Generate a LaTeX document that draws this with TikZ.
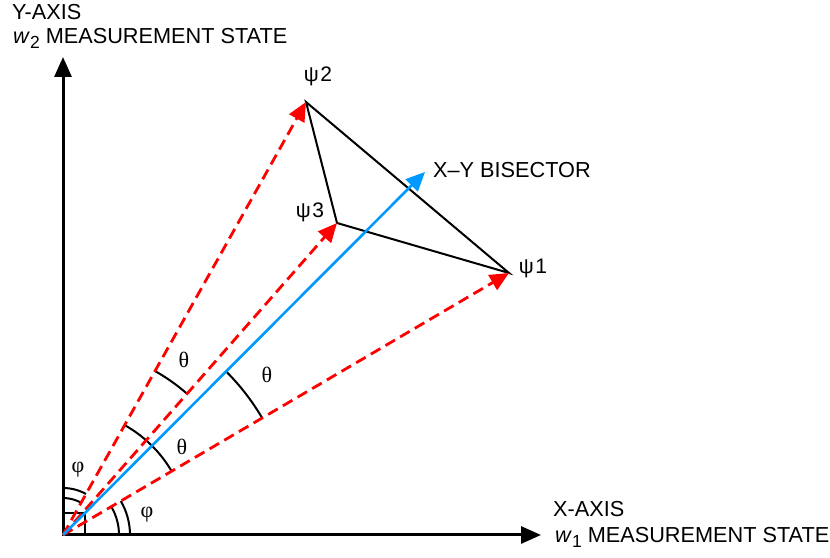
\documentclass[tikz,border=0pt]{standalone}
\usepackage{fontspec}
\setmainfont{Liberation Sans}
\newfontfamily\serifgr{Liberation Serif}
\usetikzlibrary{arrows.meta}
\definecolor{vred}{RGB}{255,0,0}
\definecolor{vblue}{RGB}{0,153,255}
\tikzset{
  axis/.style={line width=3bp, -{Triangle[length=20bp,width=17bp]}},
  psiline/.style={vred, line width=2.8bp, dash pattern=on 11bp off 6bp, -{Triangle[length=19bp,width=17bp]}},
  bisline/.style={vblue, line width=2.6bp, -{Triangle[length=19bp,width=17bp]}},
  tri/.style={line width=2bp, line join=miter},
  angarc/.style={line width=2bp},
  lbl/.style={font=\fontsize{21.7bp}{26bp}\selectfont, inner sep=0pt},
  grk/.style={font=\serifgr\fontsize{22bp}{26bp}\selectfont, inner sep=0pt},
  psil/.style={font=\fontsize{21bp}{25bp}\selectfont, inner sep=0pt},
}
\newcommand{\wsub}[1]{\textit{w}\raisebox{-5bp}{\fontsize{17.5bp}{17.5bp}\selectfont #1}}
\begin{document}
\begin{tikzpicture}[x=1bp,y=1bp]
\useasboundingbox (0,0) rectangle (830,558);
\coordinate (O) at (63,23);
\coordinate (Yt) at (63,501);
\coordinate (Xt) at (541,23);
\coordinate (P1) at (509,285);
\coordinate (P2) at (306,456);
\coordinate (P3) at (337,335);
\coordinate (B) at (425,386);

% right-angle square
\draw[line width=2bp] (O) rectangle (85,45);

% axes
\draw[axis] (O) -- (Yt);
\draw[axis] (O) -- (Xt);

% angle arcs
\draw[angarc] (O) ++(30.43:231) arc[start angle=30.43, end angle=45.08, radius=231];
\draw[angarc] (O) ++(48.71:188) arc[start angle=48.71, end angle=60.70, radius=188];
\draw[angarc] (O) ++(30.43:126) arc[start angle=30.43, end angle=60.70, radius=126];
\draw[angarc] (O) ++(0:56) arc[start angle=0, end angle=30.43, radius=56];
\draw[angarc] (O) ++(0:67) arc[start angle=0, end angle=30.43, radius=67];
\draw[angarc] (O) ++(60.70:37) arc[start angle=60.70, end angle=90, radius=37];
\draw[angarc] (O) ++(60.70:47) arc[start angle=60.70, end angle=90, radius=47];

% triangle
\draw[tri] (P2) -- (P1) -- (P3) -- cycle;

% vectors
\draw[psiline] (O) -- (P1);
\draw[psiline] (O) -- (P2);
\draw[psiline] (O) -- (P3);
\draw[bisline] (O) -- (B);

% labels
\node[lbl, anchor=base west] (ylab1) at (12,538) {Y-AXIS};
\node[lbl, anchor=base west] (ylab2) at (13,514) {\wsub{2} MEASUREMENT STATE};
\node[lbl, anchor=base west] (xlab1) at (553,41) {X-AXIS};
\node[lbl, anchor=base west] (xlab2) at (555,15) {\wsub{1} MEASUREMENT STATE};
\node[lbl, anchor=base west] (blab) at (433,380) {X–Y BISECTOR};

\node[psil] (l1) at (533,290) {ψ\kern1.5bp1};
\node[psil] (l2) at (318,482) {ψ\kern1.5bp2};
\node[psil] (l3) at (310,346) {ψ\kern1.5bp3};

\node[grk] (tA) at (267,183) {θ};
\node[grk] (tB) at (184,198) {θ};
\node[grk] (tC) at (182,111) {θ};
\node[grk] (fA) at (147,43) {φ};
\node[grk] (fB) at (78,88) {φ};
\end{tikzpicture}
\end{document}
